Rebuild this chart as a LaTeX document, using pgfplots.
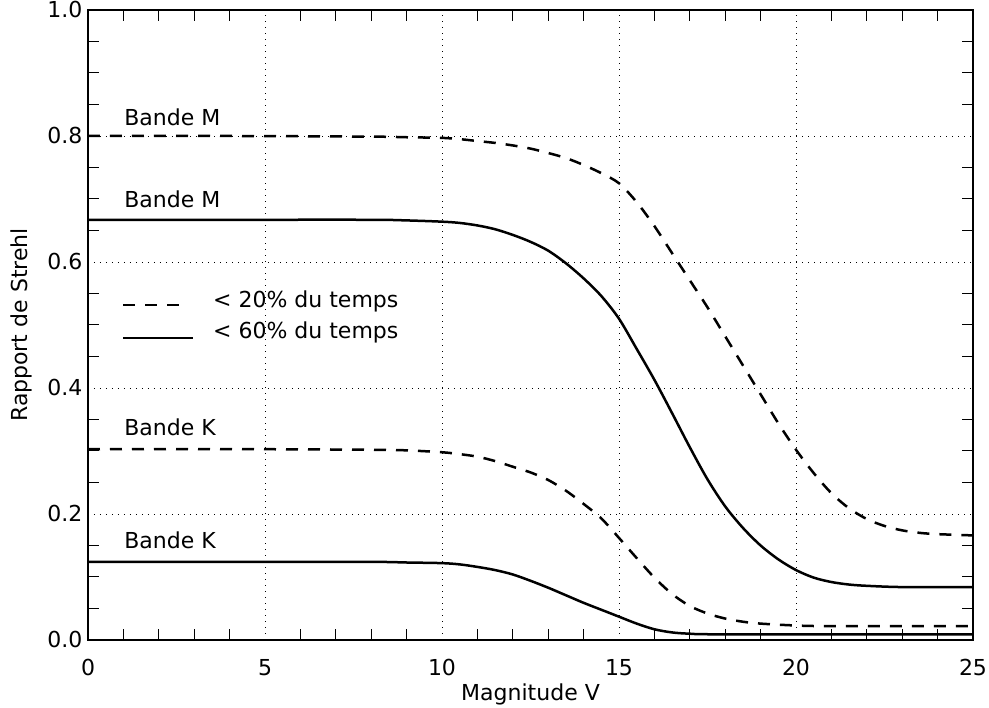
\documentclass[border=0pt]{standalone}
\usepackage{fontspec}
\setmainfont{DejaVu Sans}
\usepackage{pgfplots}
\pgfplotsset{compat=1.18}

\pgfplotstableread{
x y
0 0.800
4 0.800
8 0.799
9 0.798
10 0.797
10.5 0.795
11 0.792
11.5 0.789
12 0.785
12.5 0.780
13 0.773
13.5 0.765
14 0.754
14.5 0.741
15 0.725
15.5 0.695
16 0.657
16.5 0.614
17 0.571
17.5 0.528
18 0.482
18.5 0.436
19 0.390
19.5 0.344
20 0.302
20.5 0.265
21 0.233
21.5 0.209
22 0.192
22.5 0.181
23 0.174
23.5 0.170
24 0.168
25 0.166
}\dashM

\pgfplotstableread{
x y
0 0.667
4 0.667
8 0.667
9 0.666
10 0.664
10.5 0.662
11 0.658
11.5 0.652
12 0.643
12.5 0.632
13 0.618
13.5 0.598
14 0.574
14.5 0.546
15 0.510
15.5 0.462
16 0.413
16.5 0.360
17 0.306
17.5 0.255
18 0.212
18.5 0.178
19 0.150
19.5 0.128
20 0.111
20.5 0.099
21 0.092
21.5 0.088
22 0.086
23 0.084
25 0.084
}\solidM

\pgfplotstableread{
x y
0 0.303
4 0.303
8 0.302
9 0.301
10 0.298
10.5 0.295
11 0.291
11.5 0.284
12 0.275
12.5 0.266
13 0.254
13.5 0.237
14 0.216
14.5 0.193
15 0.162
15.5 0.130
16 0.099
16.5 0.073
17 0.054
17.5 0.042
18 0.034
18.5 0.029
19 0.026
20 0.023
21 0.022
25 0.022
}\dashK

\pgfplotstableread{
x y
0 0.124
4 0.124
8 0.124
9 0.123
10 0.122
10.5 0.120
11 0.116
11.5 0.111
12 0.104
12.5 0.094
13 0.083
13.5 0.071
14 0.059
14.5 0.048
15 0.037
15.5 0.026
16 0.017
16.5 0.012
17 0.010
18 0.009
25 0.009
}\solidK

\begin{document}
\begin{tikzpicture}[font=\fontsize{22}{26}\selectfont]
\useasboundingbox (-88pt,-68pt) rectangle (901pt,640pt);
\begin{axis}[
  scale only axis, width=885pt, height=630pt,
  xmin=0, xmax=25, ymin=0, ymax=1,
  xtick={0,5,10,15,20,25},
  ytick={0,0.2,0.4,0.6,0.8,1.0},
  minor x tick num=4, minor y tick num=3,
  major tick length=0pt, minor tick length=11pt,
  tick align=inside, tick pos=both,
  grid=major,
  major grid style={black, line width=0.9pt, dash pattern=on 1.2pt off 4.8pt},
  axis line style={black, line width=1.3pt},
  every tick/.style={black, line width=1pt},
  /pgf/number format/assume math mode=true,
  yticklabel style={/pgf/number format/fixed, /pgf/number format/fixed zerofill, /pgf/number format/precision=1, xshift=-2pt},
  tick label style={font=\fontsize{22}{26}\selectfont},
  xticklabel style={yshift=-16pt},
  xlabel={Magnitude V}, ylabel={Rapport de Strehl},
  label style={font=\fontsize{22}{26}\selectfont},
  every axis x label/.style={at={(axis description cs:0.5,0)}, anchor=center, yshift=-54pt},
  every axis y label/.style={at={(axis description cs:-0.075,0.5)}, rotate=90, anchor=center},
]
\addplot[black, line width=2.5pt, dash pattern=on 12pt off 10pt, smooth, tension=0.5] table[x=x,y=y] {\dashM};
\addplot[black, line width=2.5pt, smooth, tension=0.5] table[x=x,y=y] {\solidM};
\addplot[black, line width=2.5pt, dash pattern=on 12pt off 10pt, smooth, tension=0.5] table[x=x,y=y] {\dashK};
\addplot[black, line width=2.5pt, smooth, tension=0.5] table[x=x,y=y] {\solidK};
% legend samples
\addplot[black, line width=2.5pt, dash pattern=on 12pt off 10pt] coordinates {(0.99,0.532) (2.66,0.532)};
\addplot[black, line width=2.5pt] coordinates {(0.99,0.479) (2.97,0.479)};
\node[anchor=base west, inner sep=0pt] at (axis cs:3.53,0.527) {< 20\% du temps};
\node[anchor=base west, inner sep=0pt] at (axis cs:3.53,0.479) {< 60\% du temps};
\node[anchor=base west, inner sep=0pt] at (axis cs:1.02,0.816) {Bande M};
\node[anchor=base west, inner sep=0pt] at (axis cs:1.02,0.686) {Bande M};
\node[anchor=base west, inner sep=0pt] at (axis cs:1.02,0.324) {Bande K};
\node[anchor=base west, inner sep=0pt] at (axis cs:1.02,0.146) {Bande K};
\end{axis}
\end{tikzpicture}
\end{document}
